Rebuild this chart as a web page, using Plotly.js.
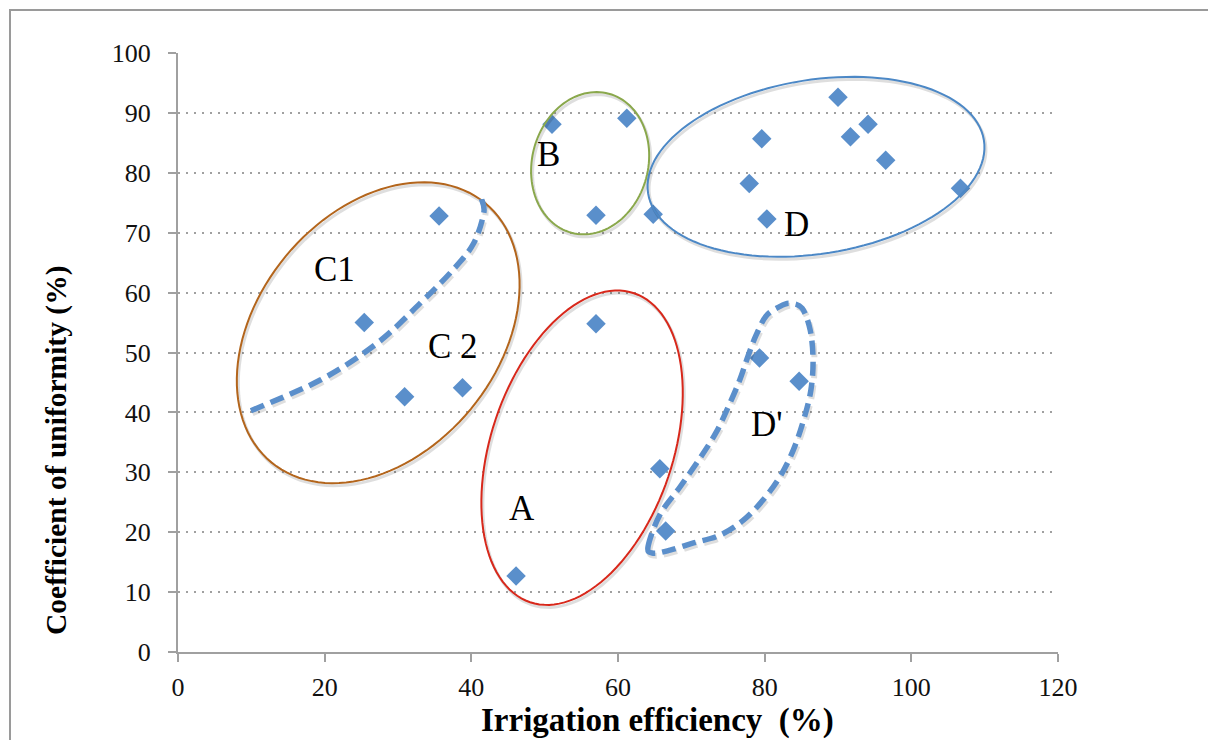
<!DOCTYPE html>
<html>
<head>
<meta charset="utf-8">
<script src="https://cdn.plot.ly/plotly-3.0.1.min.js"></script>
<style>
  html, body { margin: 0; padding: 0; background: #fff; overflow: hidden; }
  #chart { width: 1208px; height: 740px; }
  #frame { position: absolute; left: 9px; top: 9px; width: 1400px; height: 900px;
           border-left: 2px solid #9a9a9a; border-top: 2px solid #9a9a9a; pointer-events: none; }
</style>
</head>
<body>
<div id="chart"></div>
<div id="frame"></div>
<script>
// ---- data ----
const irrigationEfficiency = [25.4, 30.9, 38.8, 35.6, 51.0, 61.2, 57.0, 64.8, 57.0, 65.7, 66.5, 46.1,
                              77.9, 79.6, 80.3, 79.3, 84.7, 90.0, 91.7, 94.1, 96.5, 106.7];
const coefficientUniformity = [55.0, 42.6, 44.1, 72.8, 88.1, 89.1, 72.9, 73.1, 54.8, 30.6, 20.2, 12.7,
                               78.2, 85.7, 72.3, 49.1, 45.2, 92.6, 86.0, 88.1, 82.1, 77.4];
const xTickValues = [0, 20, 40, 60, 80, 100, 120];
const yTickValues = [0, 10, 20, 30, 40, 50, 60, 70, 80, 90, 100];

// group labels
const groupNames = ["C1", "C 2", "B", "D", "A", "D'"];
const groupLabelX = [21.4, 37.5, 50.5, 84.4, 46.9, 80.3];
const groupLabelY = [63.8, 51.0, 83.0, 71.3, 24.0, 37.9];

// ellipses: centre (data), semi-axes (px), tilt of major axis (deg)
const ellipseCx = [56.2, 87.0, 27.3, 55.1];
const ellipseCy = [81.6, 81.0, 53.3, 34.1];
const ellipseA  = [72, 170, 168, 163];
const ellipseB  = [58, 87, 120, 91];
const ellipsePhi = [75, 9, 50.5, 71.4];
const ellipseColor = ['#8AA84C', '#4C88C6', '#B3651C', '#D8281B'];

// dashed curve C2 (open) and D' (closed), in data units
const c2X = [41.4, 41.7, 40.3, 37.5, 33.0, 27.1, 19.4, 9.4];
const c2Y = [75.6, 73.3, 68.2, 63.8, 58.2, 51.5, 45.4, 40.0];
const dpX = [64.1, 65.7, 68.45, 71.2, 73.4, 75.1, 76.6, 77.7, 78.8, 80.2, 82.1, 83.5, 85.1, 86.2, 86.6, 86.3, 85.3, 83.9, 82.1, 79.8, 77.1, 73.9, 70.3, 67.1, 64.8];
const dpY = [17.6, 22.9, 27.55, 32.4, 36.7, 41.1, 45.4, 49.3, 52.8, 56.1, 57.7, 58.2, 57.4, 53.8, 48.8, 43.7, 38.7, 33.7, 29.3, 25.4, 22.0, 19.5, 18.2, 17.0, 16.5];

// ---- geometry helpers ----
const xRange = [0, 120], yRange = [0, 100];
const M = {l: 178, r: 150, t: 53, b: 88};
const plotW = 1208 - M.l - M.r, plotH = 740 - M.t - M.b;
const pxX = plotW / (xRange[1] - xRange[0]);
const pxY = plotH / (yRange[1] - yRange[0]);
// shadow offset (px right, px down)
const SH = [1.5, 2.5];

function ellipsePath(cx, cy, a, b, phiDeg, offPx) {
  const phi = phiDeg * Math.PI / 180;
  const ox = offPx ? offPx[0] / pxX : 0, oy = offPx ? -offPx[1] / pxY : 0;
  let d = '';
  const n = 120;
  for (let i = 0; i <= n; i++) {
    const t = 2 * Math.PI * i / n;
    const u = a * Math.cos(t), v = b * Math.sin(t);
    const dx = u * Math.cos(phi) - v * Math.sin(phi);
    const dy = u * Math.sin(phi) + v * Math.cos(phi);
    const x = cx + ox + dx / pxX, y = cy + oy + dy / pxY;
    d += (i === 0 ? 'M' : 'L') + x.toFixed(3) + ',' + y.toFixed(3);
  }
  return d + 'Z';
}

function splinePath(xs0, ys0, closed, offPx) {
  const ox = offPx ? offPx[0] / pxX : 0, oy = offPx ? -offPx[1] / pxY : 0;
  const xs = xs0.map(v => v + ox), ys = ys0.map(v => v + oy);
  const n = xs.length;
  const P = i => {
    if (closed) { i = (i + n) % n; }
    else { i = Math.max(0, Math.min(n - 1, i)); }
    return [xs[i], ys[i]];
  };
  let d = 'M' + xs[0].toFixed(3) + ',' + ys[0].toFixed(3);
  const segs = closed ? n : n - 1;
  for (let i = 0; i < segs; i++) {
    const p0 = P(i - 1), p1 = P(i), p2 = P(i + 1), p3 = P(i + 2);
    const c1 = [p1[0] + (p2[0] - p0[0]) / 6, p1[1] + (p2[1] - p0[1]) / 6];
    const c2 = [p2[0] - (p3[0] - p1[0]) / 6, p2[1] - (p3[1] - p1[1]) / 6];
    d += 'C' + c1[0].toFixed(3) + ',' + c1[1].toFixed(3) + ' ' + c2[0].toFixed(3) + ',' + c2[1].toFixed(3) + ' ' + p2[0].toFixed(3) + ',' + p2[1].toFixed(3);
  }
  return closed ? d + 'Z' : d;
}

// ---- shapes ----
const shapes = [];
const none = 'rgba(0,0,0,0)';
const shadowCol = 'rgba(0,0,0,0.13)';
const DASH = '14px,7px';
for (let i = 0; i < ellipseCx.length; i++) {
  shapes.push({type: 'path', xref: 'x', yref: 'y', layer: 'above',
    path: ellipsePath(ellipseCx[i], ellipseCy[i], ellipseA[i], ellipseB[i], ellipsePhi[i], SH),
    line: {color: shadowCol, width: 3}, fillcolor: none});
}
shapes.push({type: 'path', xref: 'x', yref: 'y', layer: 'above', path: splinePath(c2X, c2Y, false, SH),
  line: {color: shadowCol, width: 6, dash: DASH}});
shapes.push({type: 'path', xref: 'x', yref: 'y', layer: 'above', path: splinePath(dpX, dpY, true, SH),
  line: {color: shadowCol, width: 6, dash: DASH}, fillcolor: none});
for (let i = 0; i < ellipseCx.length; i++) {
  shapes.push({type: 'path', xref: 'x', yref: 'y', layer: 'above',
    path: ellipsePath(ellipseCx[i], ellipseCy[i], ellipseA[i], ellipseB[i], ellipsePhi[i]),
    line: {color: ellipseColor[i], width: 2}, fillcolor: none});
}
shapes.push({type: 'path', xref: 'x', yref: 'y', layer: 'above', path: splinePath(c2X, c2Y, false),
  line: {color: '#5B8FCB', width: 5.5, dash: DASH}});
shapes.push({type: 'path', xref: 'x', yref: 'y', layer: 'above', path: splinePath(dpX, dpY, true),
  line: {color: '#5B8FCB', width: 5.5, dash: DASH}, fillcolor: none});

// ---- annotations ----
const serif = '"Liberation Serif", "Times New Roman", serif';
const annotations = groupNames.map((t, i) => ({
  x: groupLabelX[i], y: groupLabelY[i], xref: 'x', yref: 'y', text: t, showarrow: false,
  xanchor: 'center', yanchor: 'middle',
  font: {family: serif, size: 35, color: '#000'}
}));
annotations.push({x: (657 - M.l) / plotW, y: -(720 - (740 - M.b)) / plotH, xref: 'paper', yref: 'paper',
  xanchor: 'center', yanchor: 'middle',
  text: '<b>Irrigation efficiency  (%)</b>', showarrow: false,
  font: {family: serif, size: 33, color: '#000'}});
annotations.push({x: (56 - M.l) / plotW, y: ((740 - M.b) - 451) / plotH, xref: 'paper', yref: 'paper',
  xanchor: 'center', yanchor: 'middle',
  text: '<b>Coefficient of uniformity (%)</b>', showarrow: false, textangle: -90,
  font: {family: serif, size: 29.5, color: '#000'}});

const trace = {
  x: irrigationEfficiency, y: coefficientUniformity, type: 'scatter', mode: 'markers',
  marker: {symbol: 'diamond', size: 15, color: '#5A8FCB', line: {width: 0}},
  hoverinfo: 'x+y'
};

const tickFont = {family: serif, size: 26, color: '#111'};
const layout = {
  width: 1208, height: 740,
  margin: M,
  font: {family: serif, size: 26, color: '#111'},
  paper_bgcolor: '#fff', plot_bgcolor: '#fff',
  showlegend: false,
  xaxis: {range: xRange, tickvals: xTickValues, ticktext: xTickValues.map(String),
    showgrid: false, zeroline: false, showline: true, linecolor: '#a0a0a0', linewidth: 2,
    ticks: 'outside', ticklen: 8, tickwidth: 2, tickcolor: '#a0a0a0', tickfont: tickFont,
    ticklabelstandoff: 3},
  yaxis: {range: yRange, tickvals: yTickValues, ticktext: yTickValues.map(String),
    showgrid: true, gridcolor: '#a0a0a0', gridwidth: 2, griddash: '2px,6px',
    zeroline: false, showline: true, linecolor: '#a0a0a0', linewidth: 2,
    ticks: 'outside', ticklen: 8, tickwidth: 2, tickcolor: '#a0a0a0', tickfont: tickFont,
    ticklabelstandoff: 12},
  shapes: shapes,
  annotations: annotations
};

Plotly.newPlot('chart', [trace], layout, {displayModeBar: false});
</script>
</body>
</html>
